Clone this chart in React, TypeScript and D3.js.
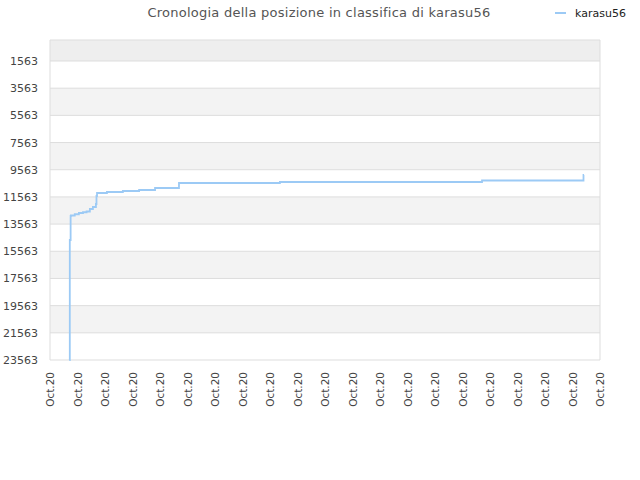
import React from "react";
import * as d3 from "d3";

// x positions in "day" units along the time axis, ranks
const days = [0.70, 0.72, 0.75, 0.76, 0.9, 1.05, 1.2, 1.33, 1.45, 1.56, 1.67, 1.69, 1.71, 2.07, 2.65, 3.24, 3.82, 4.69, 8.36, 15.71, 19.4, 19.42];
const ranks = [23563, 14734, 12968, 12931, 12840, 12747, 12690, 12637, 12453, 12306, 12085, 11496, 11276, 11202, 11128, 11055, 10908, 10540, 10466, 10356, 9951, 9951];

const yTicks = [1563, 3563, 5563, 7563, 9563, 11563, 13563, 15563, 17563, 19563, 21563, 23563];
const xTickLabels = Array.from({ length: 21 }, () => "Oct.20");

const App: React.FC = () => {
  const width = 640;
  const height = 480;
  const margin = { top: 40, right: 40, bottom: 120, left: 50 };
  const innerW = width - margin.left - margin.right;
  const innerH = height - margin.top - margin.bottom;

  const x = d3.scaleLinear().domain([0, xTickLabels.length - 1]).range([0, innerW]);
  const y = d3.scaleLinear().domain([18, 23563]).range([0, innerH]);

  const line = d3
    .line<number>()
    .x((_, i) => x(days[i]))
    .y((d) => y(d))
    .curve(d3.curveStepAfter);

  const font = "DejaVu Sans, sans-serif";

  return (
    <svg width={width} height={height} style={{ position: "absolute", left: 0, top: 0 }} fontFamily={font}>
      <rect width={width} height={height} fill="#fff" />
      <text x={319} y={17} textAnchor="middle" fontSize={13} fill="#555" letterSpacing={0.25}>
        Cronologia della posizione in classifica di karasu56
      </text>
      {/* legend */}
      <line x1={555} x2={566} y1={13} y2={13} stroke="#9ccaf5" strokeWidth={2} />
      <text x={575} y={17} fontSize={11} fill="#222">karasu56</text>

      <g transform={`translate(${margin.left}, ${margin.top})`}>
        {/* top band */}
        <rect x={0} y={0} width={innerW} height={y(yTicks[0])} fill="#eeeeee" />
        {yTicks.slice(0, -1).map((t, i) => (
          <rect
            key={t}
            x={0}
            y={y(t)}
            width={innerW}
            height={y(yTicks[i + 1]) - y(t)}
            fill={i % 2 === 1 ? "#f3f3f3" : "#ffffff"}
          />
        ))}
        {yTicks.map((t) => (
          <g key={t}>
            <line x1={0} x2={innerW} y1={y(t)} y2={y(t)} stroke="#dddddd" />
            <text x={-12} y={y(t) + 4} textAnchor="end" fontSize={11} fill="#444">
              {t}
            </text>
          </g>
        ))}
        <line x1={0} x2={0} y1={0} y2={innerH} stroke="#dddddd" />
        <line x1={innerW} x2={innerW} y1={0} y2={innerH} stroke="#dddddd" />
        <line x1={0} x2={innerW} y1={0} y2={0} stroke="#dddddd" />

        <path d={line(ranks) || ""} fill="none" stroke="#9ccaf5" strokeWidth={1.8} />

        {xTickLabels.map((label, i) => (
          <text
            key={i}
            transform={`translate(${x(i) + 4}, ${innerH + 12}) rotate(-90)`}
            textAnchor="end"
            fontSize={10.5}
            fill="#444"
          >
            {label}
          </text>
        ))}
      </g>
    </svg>
  );
};

export default App;
